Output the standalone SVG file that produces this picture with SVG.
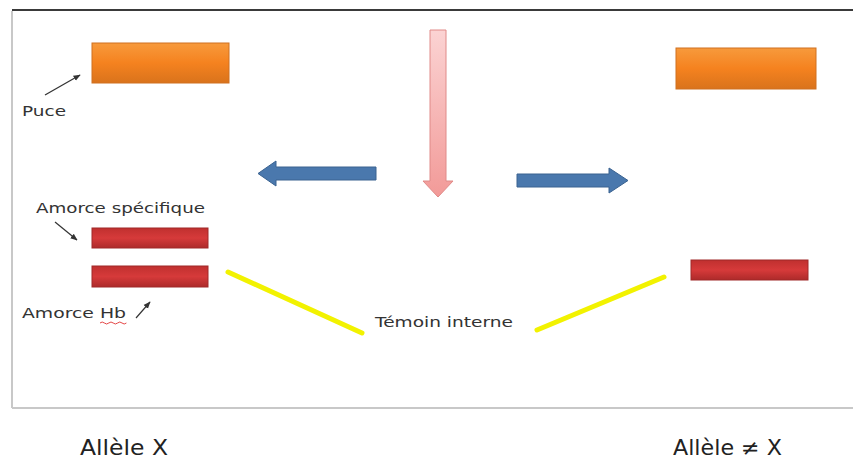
<svg xmlns="http://www.w3.org/2000/svg" width="853" height="462" viewBox="0 0 853 462">
<defs>
<linearGradient id="gOr" x1="0" y1="0" x2="0" y2="1"><stop offset="0" stop-color="#f79a3c"/><stop offset="0.5" stop-color="#f5821f"/><stop offset="1" stop-color="#d9731c"/></linearGradient>
<linearGradient id="gRed" x1="0" y1="0" x2="0" y2="1"><stop offset="0" stop-color="#c0302f"/><stop offset="0.5" stop-color="#d63a3a"/><stop offset="1" stop-color="#ad2a2a"/></linearGradient>
<linearGradient id="gPink" x1="0" y1="0" x2="0" y2="1"><stop offset="0" stop-color="#fbd3d3"/><stop offset="1" stop-color="#f29a98"/></linearGradient>
<marker id="ah" viewBox="0 0 10 10" refX="9" refY="5" markerWidth="6" markerHeight="6" orient="auto"><path d="M0,1 L10,5 L0,9 z" fill="#333"/></marker>
</defs>
<style>
.lbl{font-family:"DejaVu Sans","Liberation Sans",sans-serif;font-size:14px;fill:#333}
.big{font-family:"DejaVu Sans","Liberation Sans",sans-serif;font-size:21px;fill:#222}
.ptr{stroke:#333;stroke-width:1.2;fill:none;marker-end:url(#ah)}
.yl{stroke:#f2f200;stroke-width:5;stroke-linecap:round}
.blue{fill:#4a78ad;stroke:#3a6290;stroke-width:1}
</style>
<rect x="0" y="0" width="853" height="462" fill="#fff"/>
<g id="frame">
<line x1="12" y1="10" x2="853" y2="10" stroke="#3a3a3a" stroke-width="2"/>
<line x1="12" y1="11" x2="12" y2="408" stroke="#c8c8c8" stroke-width="2"/>
<line x1="12" y1="408" x2="853" y2="408" stroke="#c8c8c8" stroke-width="2"/>
</g>
<g id="puce-left"><rect x="92" y="43" width="137" height="40" fill="url(#gOr)" stroke="#d07020" stroke-width="1"/></g>
<g id="puce-right"><rect x="676" y="48" width="140" height="41" fill="url(#gOr)" stroke="#d07020" stroke-width="1"/></g>
<g id="amorce-spec-left"><rect x="92" y="228" width="116" height="20" fill="url(#gRed)" stroke="#a02828" stroke-width="1"/></g>
<g id="amorce-hb-left"><rect x="92" y="266" width="116" height="21" fill="url(#gRed)" stroke="#a02828" stroke-width="1"/></g>
<g id="amorce-right"><rect x="691" y="260" width="117" height="20" fill="url(#gRed)" stroke="#a02828" stroke-width="1"/></g>
<g id="arrow-down"><path d="M430,30 L446,30 L446,181 L453,181 L438,197 L423,181 L430,181 Z" fill="url(#gPink)" stroke="#e08a88" stroke-width="1"/></g>
<g id="arrow-left"><path d="M376,167 L376,180 L276,180 L276,186 L258,173.5 L276,161 L276,167 Z" class="blue"/></g>
<g id="arrow-right"><path d="M517,174 L609,174 L609,168 L628,180.5 L609,193 L609,187 L517,187 Z" class="blue"/></g>
<g id="connectors">
<line class="yl" x1="228" y1="272" x2="362" y2="333"/>
<line class="yl" x1="537" y1="330" x2="664" y2="277"/>
<line class="ptr" x1="45" y1="95" x2="80" y2="75"/>
<line class="ptr" x1="55" y1="222" x2="77" y2="240"/>
<line class="ptr" x1="136" y1="318" x2="150" y2="302"/>
</g>
<g id="labels">
<text class="lbl" x="22" y="116" textLength="44" lengthAdjust="spacingAndGlyphs">Puce</text>
<text class="lbl" x="36" y="213" textLength="169" lengthAdjust="spacingAndGlyphs">Amorce spécifique</text>
<text class="lbl" x="22" y="318" textLength="104" lengthAdjust="spacingAndGlyphs">Amorce Hb</text>
<path d="M100,323 q2.2,-2 4.4,0 t4.4,0 t4.4,0 t4.4,0 t4.4,0 t4.4,0" stroke="#e03030" stroke-width="0.9" fill="none"/>
<text class="lbl" x="375" y="327" textLength="138" lengthAdjust="spacingAndGlyphs">Témoin interne</text>
<text class="big" x="80" y="455" textLength="88" lengthAdjust="spacingAndGlyphs">Allèle X</text>
<text class="big" x="673" y="455" textLength="109" lengthAdjust="spacingAndGlyphs">Allèle ≠ X</text>
</g>
</svg>
